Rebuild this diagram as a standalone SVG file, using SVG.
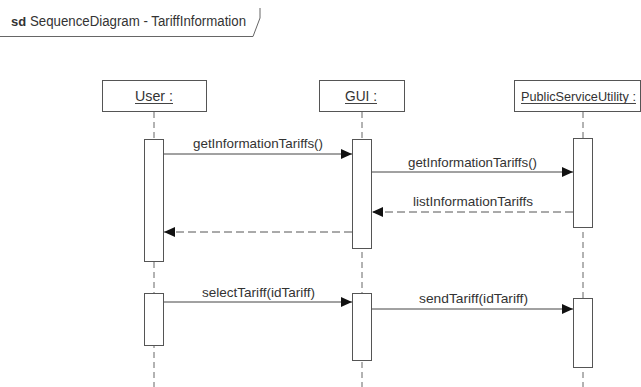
<svg xmlns="http://www.w3.org/2000/svg" width="641" height="387" viewBox="0 0 641 387">
<style>
.box{fill:#fff;stroke:#555;stroke-width:1}
.act{fill:#fff;stroke:#555;stroke-width:1}
.life{stroke:#666;stroke-width:1;stroke-dasharray:6,4;fill:none}
.msg{stroke:#444;stroke-width:1;fill:none}
.ret{stroke:#555;stroke-width:1;stroke-dasharray:8,4;fill:none}
text{font-family:"Liberation Sans",Arial,sans-serif;fill:#333}
.lbl{font-size:13px}
.name{font-size:14px}
.ul{stroke:#444;stroke-width:1}
</style>
<defs>
<marker id="arr" markerUnits="userSpaceOnUse" markerWidth="12" markerHeight="10" refX="11" refY="5" orient="auto">
<path d="M0,0 L11,5 L0,10 Z" fill="#111"/>
</marker>
</defs>
<g id="frame">
<path d="M0,36.5 H253 L260,18 V8" fill="none" stroke="#666" stroke-width="1"/>
<text x="11" y="26" font-size="13" font-weight="bold" fill="#222">sd</text>
<text x="30" y="26" font-size="14" textLength="216" lengthAdjust="spacingAndGlyphs">SequenceDiagram - TariffInformation</text>
</g>
<g id="user">
<line class="life" x1="154" y1="112" x2="154" y2="387"/>
<rect class="box" x="102.5" y="80.5" width="104" height="31"/>
<text class="name" x="135" y="101" textLength="38" lengthAdjust="spacingAndGlyphs">User :</text>
<line class="ul" x1="135" y1="103.5" x2="173" y2="103.5"/>
<rect class="act" x="144.5" y="139.5" width="19" height="122"/>
<rect class="act" x="144.5" y="293.5" width="19" height="52"/>
</g>
<g id="gui">
<line class="life" x1="362" y1="112" x2="362" y2="387"/>
<rect class="box" x="319.5" y="80.5" width="85" height="31"/>
<text class="name" x="345" y="101" textLength="32" lengthAdjust="spacingAndGlyphs">GUI :</text>
<line class="ul" x1="345" y1="103.5" x2="377" y2="103.5"/>
<rect class="act" x="352.5" y="139.5" width="19" height="109"/>
<rect class="act" x="352.5" y="293.5" width="19" height="67"/>
</g>
<g id="psu">
<line class="life" x1="583" y1="112" x2="583" y2="387"/>
<rect class="box" x="514.5" y="80.5" width="126" height="31"/>
<text x="521" y="101" font-size="13" textLength="115" lengthAdjust="spacingAndGlyphs">PublicServiceUtility :</text>
<line class="ul" x1="521" y1="103.5" x2="636" y2="103.5"/>
<rect class="act" x="573.5" y="138.5" width="19" height="89"/>
<rect class="act" x="573.5" y="298.5" width="19" height="69"/>
</g>
<g id="connectors">
<line class="msg" x1="164" y1="154" x2="352" y2="154" marker-end="url(#arr)"/>
<text class="lbl" x="193" y="148" textLength="130" lengthAdjust="spacingAndGlyphs">getInformationTariffs()</text>
<line class="msg" x1="372" y1="172" x2="573" y2="172" marker-end="url(#arr)"/>
<text class="lbl" x="408" y="167" textLength="129" lengthAdjust="spacingAndGlyphs">getInformationTariffs()</text>
<line class="ret" x1="573" y1="212" x2="372" y2="212" marker-end="url(#arr)"/>
<text class="lbl" x="413" y="206" textLength="120" lengthAdjust="spacingAndGlyphs">listInformationTariffs</text>
<line class="ret" x1="352" y1="232" x2="164" y2="232" marker-end="url(#arr)"/>
<line class="msg" x1="164" y1="302" x2="352" y2="302" marker-end="url(#arr)"/>
<text class="lbl" x="202" y="297" textLength="113" lengthAdjust="spacingAndGlyphs">selectTariff(idTariff)</text>
<line class="msg" x1="372" y1="309" x2="573" y2="309" marker-end="url(#arr)"/>
<text class="lbl" x="419" y="303" textLength="109" lengthAdjust="spacingAndGlyphs">sendTariff(idTariff)</text>
</g>
</svg>
